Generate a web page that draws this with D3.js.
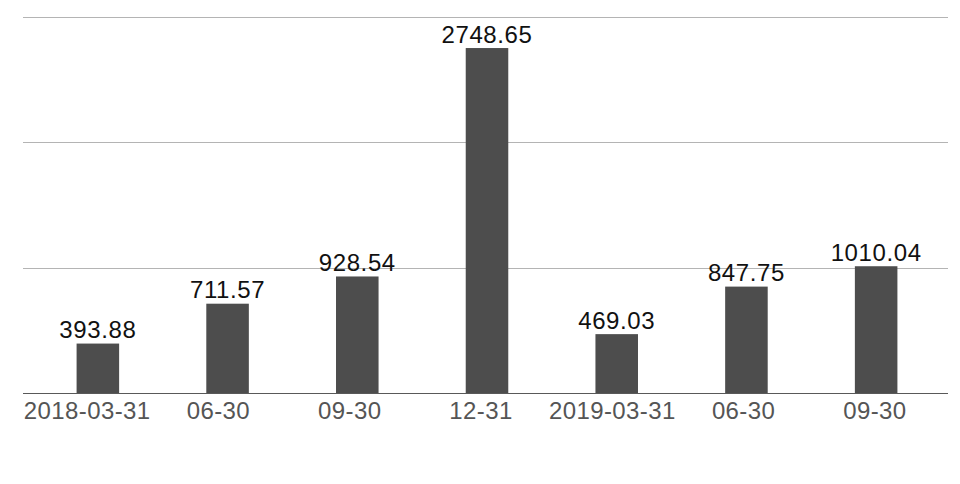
<!DOCTYPE html>
<html><head><meta charset="utf-8">
<script src="https://cdn.jsdelivr.net/npm/d3@7"></script>
<style>html,body{margin:0;padding:0;background:#fff;}svg{display:block;}</style>
</head><body>
<svg id="chart" width="960" height="484"></svg>
<script>
const categories = ["2018-03-31","06-30","09-30","12-31","2019-03-31","06-30","09-30"];
const values = [393.88, 711.57, 928.54, 2748.65, 469.03, 847.75, 1010.04];
const labels = ["393.88","711.57","928.54","2748.65","469.03","847.75","1010.04"];
const gridTicks = [1000, 2000, 3000];

const svg = d3.select("#chart");
const idx = d3.range(categories.length);
const x = d3.scaleBand().domain(idx).range([33, 941]).paddingInner(0.672).paddingOuter(0.336);
const xl = d3.scaleBand().domain(idx).range([21.5, 940.5]);
const y = d3.scaleLinear().domain([0, 3000]).range([393, 16.5]);

// gridlines
svg.append("g").selectAll("line").data(gridTicks).join("line")
  .attr("x1", 23).attr("x2", 948)
  .attr("y1", d => Math.round(y(d)) + 0.5).attr("y2", d => Math.round(y(d)) + 0.5)
  .attr("stroke", "#b4b4b4").attr("stroke-width", 1);

// bars
svg.append("g").selectAll("rect").data(idx).join("rect")
  .attr("x", i => x(i)).attr("width", x.bandwidth())
  .attr("y", i => y(values[i])).attr("height", i => y(0) - y(values[i]))
  .attr("fill", "#4d4d4d");

// baseline
svg.append("line").attr("x1", 23).attr("x2", 948)
  .attr("y1", y(0) + 0.5).attr("y2", y(0) + 0.5)
  .attr("stroke", "#595959").attr("stroke-width", 1);

// value labels
svg.append("g").selectAll("text").data(idx).join("text")
  .attr("x", i => x(i) + x.bandwidth() / 2)
  .attr("y", i => y(values[i]) - 5.5)
  .attr("text-anchor", "middle")
  .attr("font-family", "'Liberation Sans', Arial, sans-serif")
  .attr("font-size", 24).attr("letter-spacing", 0.6).attr("fill", "#111")
  .text(i => labels[i]);

// axis labels
svg.append("g").selectAll("text").data(idx).join("text")
  .attr("x", i => xl(i) + xl.bandwidth() / 2)
  .attr("y", 419)
  .attr("text-anchor", "middle")
  .attr("font-family", "'Liberation Sans', Arial, sans-serif")
  .attr("font-size", 24).attr("letter-spacing", 0.4).attr("fill", "#555")
  .text(i => categories[i]);
</script>
</body></html>
